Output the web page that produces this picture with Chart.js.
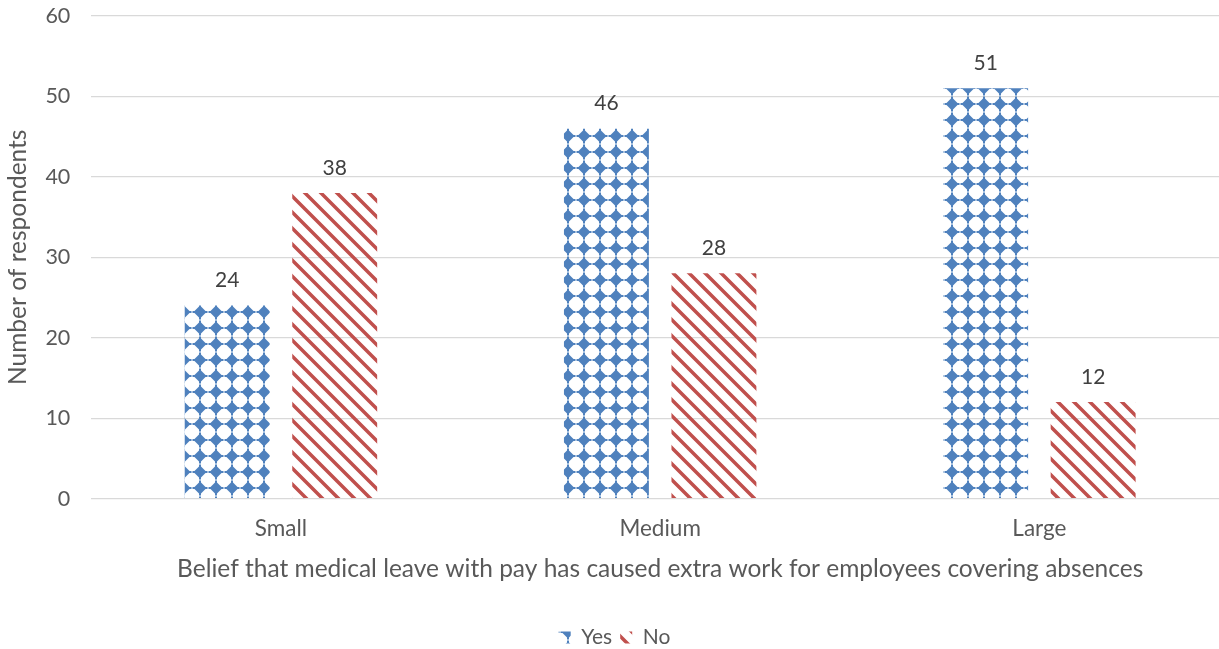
<!DOCTYPE html>
<html>
<head>
<meta charset="utf-8">
<script src="https://cdn.jsdelivr.net/npm/chart.js@4/dist/chart.umd.min.js"></script>
<style>
  html, body { margin: 0; padding: 0; background: #fff; overflow: hidden; }
  #wrap { position: relative; width: 1232px; height: 649px; }
</style>
</head>
<body>
<div id="wrap"><canvas id="chart"></canvas></div>
<script>
var categories = ["Small", "Medium", "Large"];
var yesValues = [24, 46, 51];
var noValues = [38, 28, 12];
var yTicks = [0, 10, 20, 30, 40, 50, 60];

var fontFamily = "Lato, 'Open Sans', sans-serif";
var textColor = "#595959";

// blue diamond fill
function diamondPattern() {
    var c = document.createElement("canvas");
    c.width = 16; c.height = 16;
    var g = c.getContext("2d");
    g.fillStyle = "#4f81bd";
    g.beginPath();
    g.moveTo(8, 1.5); g.lineTo(14.5, 8); g.lineTo(8, 14.5); g.lineTo(1.5, 8);
    g.closePath();
    g.fill();
    g.fillRect(7, 0.5, 2, 15);
    g.fillRect(0.5, 7, 15, 2);
    return g.createPattern(c, "repeat");
}

// red diagonal stripes
function stripePattern() {
    var c = document.createElement("canvas");
    c.width = 16; c.height = 16;
    var g = c.getContext("2d");
    g.strokeStyle = "#c0504d";
    g.lineWidth = 3.5;
    g.beginPath();
    g.moveTo(-4, -4); g.lineTo(20, 20);
    g.moveTo(-20, -4); g.lineTo(4, 20);
    g.moveTo(12, -4); g.lineTo(36, 20);
    g.stroke();
    return g.createPattern(c, "repeat");
}

var valueLabels = {
    id: "valueLabels",
    afterDatasetsDraw: function (chart) {
        var ctx = chart.ctx;
        ctx.save();
        ctx.font = "21px " + fontFamily;
        ctx.fillStyle = "#404040";
        ctx.textAlign = "center";
        ctx.textBaseline = "middle";
        chart.data.datasets.forEach(function (ds, i) {
            chart.getDatasetMeta(i).data.forEach(function (bar, j) {
                ctx.fillText(ds.data[j], bar.x, bar.y - 25);
            });
        });
        ctx.restore();
    }
};

new Chart(document.getElementById("chart"), {
    type: "bar",
    data: {
        labels: categories,
        datasets: [
            { label: "Yes", data: yesValues, backgroundColor: diamondPattern() },
            { label: "No", data: noValues, backgroundColor: stripePattern() }
        ]
    },
    options: {
        responsive: true,
        maintainAspectRatio: false,
        animation: false,
        categoryPercentage: 0.567,
        barPercentage: 0.79,
        layout: { padding: { top: 0, right: 3, left: 0, bottom: -9 } },
        plugins: {
            tooltip: { enabled: false },
            legend: {
                position: "bottom",
                labels: {
                    color: textColor,
                    font: { family: fontFamily, size: 21 },
                    boxWidth: 12,
                    boxHeight: 12,
                    padding: 8
                }
            }
        },
        scales: {
            x: {
                grid: { display: false },
                border: { display: false },
                ticks: {
                    color: textColor,
                    font: { family: fontFamily, size: 22.5 },
                    padding: 9
                },
                title: {
                    display: true,
                    text: "Belief that medical leave with pay has caused extra work for employees covering absences",
                    color: textColor,
                    font: { family: fontFamily, size: 24.5 },
                    padding: { top: 3, bottom: 35 }
                }
            },
            y: {
                min: 0,
                max: 60,
                afterBuildTicks: function (axis) {
                    axis.ticks = yTicks.map(function (v) { return { value: v }; });
                },
                grid: {
                    color: "#d9d9d9",
                    lineWidth: 1.3,
                    drawTicks: true,
                    tickLength: 18,
                    tickColor: "rgba(0,0,0,0)"
                },
                border: { display: false },
                ticks: {
                    color: textColor,
                    font: { family: fontFamily, size: 21.5 },
                    padding: 3
                },
                title: {
                    display: true,
                    text: "Number of respondents",
                    color: textColor,
                    font: { family: fontFamily, size: 24.5 },
                    padding: { top: 3, bottom: 10 }
                }
            }
        }
    },
    plugins: [valueLabels]
});
</script>
</body>
</html>
